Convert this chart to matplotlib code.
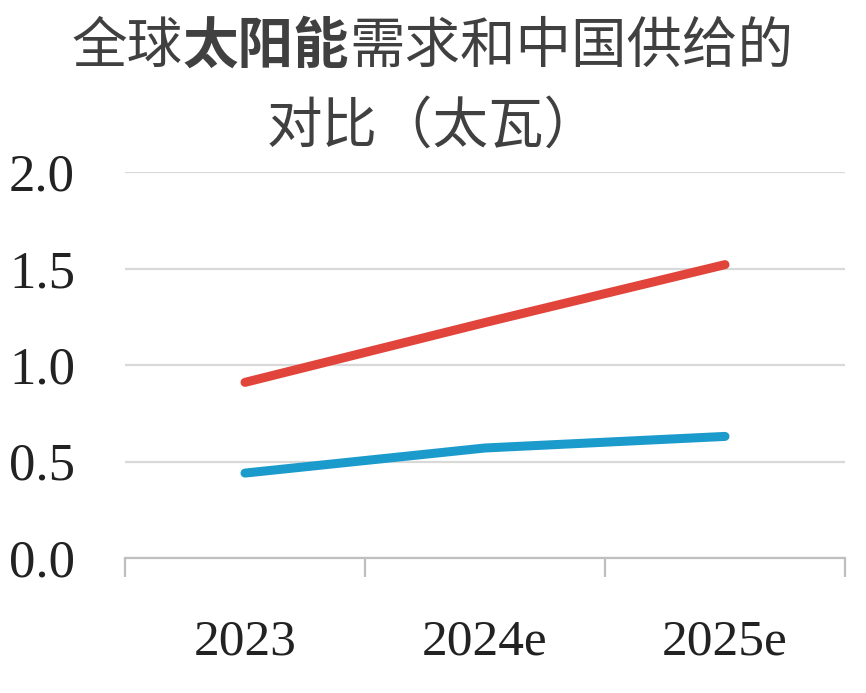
import numpy as np
import matplotlib.pyplot as plt

# 数据
years = ['2023', '2024e', '2025e']
demand = [0.91, 1.22, 1.52]   # 全球太阳能需求 (红)
supply = [0.44, 0.57, 0.63]   # 中国供给 (蓝)
yticks = [0.0, 0.5, 1.0, 1.5, 2.0]

W, H = 866, 693
fig = plt.figure(figsize=(W / 100, H / 100), dpi=100)
ax = fig.add_axes([125 / W, 1 - 558 / H, 720 / W, (558 - 172) / H])

x = np.arange(len(years))
ax.plot(x, demand, color='#e0443a', lw=6.5, solid_capstyle='round', zorder=3)
ax.plot(x, supply, color='#1b9bcc', lw=6.5, solid_capstyle='round', zorder=3)

ax.set_xlim(-0.5, 2.5)
ax.set_ylim(0, 2.0)
ax.set_yticks(yticks)
ax.set_yticklabels([f'{v:.1f}' for v in yticks], family='Liberation Serif',
                   fontsize=38, color='#222222')
ax.yaxis.grid(True, color='#d9d9d9', lw=1.6)
ax.tick_params(axis='y', length=0, pad=36)

# 分类边界刻度
ax.set_xticks([-0.5, 0.5, 1.5, 2.5])
ax.set_xticklabels([])
ax.tick_params(axis='x', which='major', length=14, width=1.6, color='#bfbfbf')
ax.set_xticks(x, minor=True)
ax.set_xticklabels(years, minor=True, family='Liberation Serif', fontsize=37,
                   color='#222222')
ax.tick_params(axis='x', which='minor', length=0, pad=44)

for s in ['left', 'right', 'top']:
    ax.spines[s].set_visible(False)
ax.spines['bottom'].set_color('#bfbfbf')
ax.spines['bottom'].set_linewidth(1.6)
ax.set_axisbelow(True)

# 标题（部分加粗）
fs = 40
em = fs * 100 / 72 / W
tfont = ['Noto Sans CJK SC', 'DejaVu Sans']
x0 = 0.5 - 13 * em / 2
y1 = 1 - 47 / H
parts = [('全球', 'normal'), ('太阳能', 'bold'), ('需求和中国供给的', 'normal')]
pos = x0
for txt, wt in parts:
    fig.text(pos, y1, txt, family=tfont, fontsize=fs, weight=wt,
             color='#404040', ha='left', va='center')
    pos += len(txt) * em
fig.text(0.5, 1 - 127 / H, '对比（太瓦）', family=tfont, fontsize=fs,
         color='#404040', ha='center', va='center')

plt.savefig('out.png', dpi=100)
